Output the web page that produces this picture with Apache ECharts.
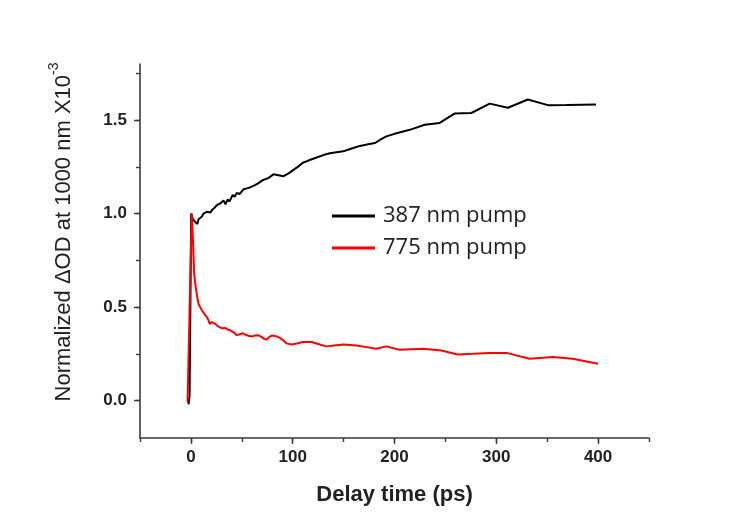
<!DOCTYPE html>
<html>
<head>
<meta charset="utf-8">
<script src="https://cdn.jsdelivr.net/npm/echarts@6/dist/echarts.min.js"></script>
<style>
  html, body { margin: 0; padding: 0; background: #fff; }
  #chart { width: 737px; height: 517px; }
</style>
</head>
<body>
<div id="chart"></div>
<script>
// Delay times (ps) and normalized ΔOD for the 387 nm pump trace
const pump387Time = [-2.3, -1.3, 0.3, 1, 2, 2.6, 3.5, 4.2, 5.5, 6.5, 7.5, 9, 10.8, 12.4, 14, 16, 19, 21, 23, 25.5, 27, 29, 32, 34, 36, 38, 41, 43, 45, 48, 51.6, 55, 58, 62, 66, 71, 76, 81, 86, 91, 96, 100.7, 105, 110, 116, 123.5, 130, 136.6, 143, 149.7, 158, 166, 173, 180.7, 186, 192, 202, 215, 229.7, 244.4, 259, 275.5, 293.5, 311.4, 331, 350.7, 368.6, 398];
const pump387Value = [-0.02, 0.03, 1.0, 1.01, 0.97, 0.96, 0.975, 0.955, 0.965, 0.945, 0.97, 0.96, 0.985, 1.0, 0.99, 1.01, 1.005, 1.02, 1.03, 1.045, 1.035, 1.055, 1.07, 1.05, 1.075, 1.065, 1.10, 1.09, 1.11, 1.105, 1.13, 1.135, 1.14, 1.15, 1.162, 1.18, 1.19, 1.21, 1.205, 1.2, 1.215, 1.234, 1.25, 1.272, 1.285, 1.30, 1.313, 1.323, 1.328, 1.333, 1.348, 1.362, 1.37, 1.377, 1.395, 1.413, 1.43, 1.448, 1.475, 1.485, 1.535, 1.538, 1.588, 1.566, 1.61, 1.58, 1.581, 1.584];

// Delay times (ps) and normalized ΔOD for the 775 nm pump trace
const pump775Time = [-3.3, -2.3, 0.8, 1.4, 2.0, 2.6, 3.2, 4.2, 5.2, 6.3, 7.5, 9, 10.8, 13, 15.7, 17.3, 18.5, 19.5, 20.6, 22, 24, 26, 28, 30.4, 32, 34, 36, 38.6, 42, 45, 48, 51, 54, 57, 60, 63, 66, 69, 72, 74.5, 77, 79.4, 83, 86, 90, 94, 99, 104, 110, 118.6, 125, 133, 141, 149.7, 162.7, 172.5, 182, 192, 205, 228, 246, 262, 277, 293.5, 311, 332.7, 355.6, 375, 400];
const pump775Value = [-0.01, -0.02, 1.0, 0.93, 0.86, 0.77, 0.68, 0.63, 0.59, 0.55, 0.518, 0.5, 0.483, 0.465, 0.447, 0.43, 0.41, 0.415, 0.42, 0.412, 0.41, 0.40, 0.393, 0.387, 0.392, 0.388, 0.38, 0.376, 0.365, 0.35, 0.355, 0.36, 0.352, 0.345, 0.343, 0.348, 0.35, 0.342, 0.33, 0.326, 0.34, 0.348, 0.345, 0.34, 0.325, 0.306, 0.3, 0.305, 0.313, 0.313, 0.303, 0.29, 0.295, 0.3, 0.295, 0.286, 0.277, 0.29, 0.272, 0.277, 0.268, 0.247, 0.25, 0.254, 0.254, 0.224, 0.233, 0.224, 0.197];

const seriesNames = ['387 nm pump', '775 nm pump'];

// Axis ticks and labels
const xMajorTicks = [0, 100, 200, 300, 400];
const xMinorTicks = [-50, 0, 50, 100, 150, 200, 250, 300, 350, 400, 450];
const yMajorTicks = [0, 0.5, 1.0, 1.5];
const yMinorTicks = [0, 0.25, 0.5, 0.75, 1.0, 1.25, 1.5, 1.75];

const zip = (xs, ys) => xs.map((x, i) => [x, ys[i]]);

const axisColor = '#3a3a3a';
const labelColor = '#222';

const chart = echarts.init(document.getElementById('chart'), null, { renderer: 'canvas' });

chart.setOption({
  backgroundColor: '#fff',
  animation: false,
  grid: { left: 140, right: 88, top: 64, bottom: 79 },
  legend: {
    orient: 'vertical',
    left: 332,
    top: 203,
    padding: 0,
    itemWidth: 43,
    itemHeight: 3,
    itemGap: 6,
    icon: 'rect',
    textStyle: {
      fontFamily: 'Open Sans',
      fontSize: 22,
      lineHeight: 26,
      color: labelColor,
      padding: [0, 0, 0, 3]
    },
    data: seriesNames
  },
  xAxis: [
    {
      type: 'value',
      min: -50,
      max: 450,
      interval: 50,
      splitLine: { show: false },
      axisLine: { show: true, onZero: false, lineStyle: { color: axisColor, width: 1.6 } },
      axisTick: { show: true, inside: false, length: 4, customValues: xMinorTicks, lineStyle: { color: axisColor, width: 1.4 } },
      axisLabel: {
        customValues: xMajorTicks,
        margin: 11,
        fontFamily: 'Liberation Sans',
        fontWeight: 'bold',
        fontSize: 17,
        color: labelColor
      },
      name: 'Delay time (ps)',
      nameLocation: 'middle',
      nameGap: 46,
      nameTextStyle: {
        fontFamily: 'Liberation Sans',
        fontWeight: 'bold',
        fontSize: 22,
        color: labelColor
      }
    },
    {
      type: 'value',
      min: -50,
      max: 450,
      interval: 50,
      position: 'bottom',
      splitLine: { show: false },
      axisLine: { show: false, onZero: false },
      axisTick: { show: true, length: 6, customValues: xMajorTicks, lineStyle: { color: axisColor, width: 1.4 } },
      axisLabel: { show: false }
    }
  ],
  yAxis: [
    {
      type: 'value',
      min: -0.2,
      max: 1.8,
      splitLine: { show: false },
      axisLine: { show: true, onZero: false, lineStyle: { color: axisColor, width: 1.6 } },
      axisTick: { show: true, length: 4, customValues: yMinorTicks, lineStyle: { color: axisColor, width: 1.4 } },
      axisLabel: {
        customValues: yMajorTicks,
        margin: 13,
        fontFamily: 'Liberation Sans',
        fontWeight: 'bold',
        fontSize: 17,
        color: labelColor,
        formatter: v => v.toFixed(1)
      }
    },
    {
      type: 'value',
      min: -0.2,
      max: 1.8,
      position: 'left',
      splitLine: { show: false },
      axisLine: { show: false, onZero: false },
      axisTick: { show: true, length: 6, customValues: yMajorTicks, lineStyle: { color: axisColor, width: 1.4 } },
      axisLabel: { show: false }
    }
  ],
  graphic: [
    {
      type: 'text',
      x: 61,
      y: 232,
      rotation: Math.PI / 2,
      style: {
        text: '{m|Normalized ΔOD at 1000 nm X10}{s|-3}',
        align: 'center',
        verticalAlign: 'middle',
        fill: labelColor,
        rich: {
          m: { fontFamily: 'Liberation Sans', fontSize: 22, lineHeight: 27, fill: labelColor, verticalAlign: 'bottom' },
          s: { fontFamily: 'Liberation Sans', fontSize: 14, lineHeight: 27, fill: labelColor, verticalAlign: 'top' }
        }
      }
    }
  ],
  series: [
    {
      name: seriesNames[0],
      type: 'line',
      xAxisIndex: 0,
      yAxisIndex: 0,
      data: zip(pump387Time, pump387Value),
      showSymbol: false,
      symbol: 'none',
      color: '#000',
      lineStyle: { color: '#000', width: 2 },
      z: 2
    },
    {
      name: seriesNames[1],
      type: 'line',
      xAxisIndex: 0,
      yAxisIndex: 0,
      data: zip(pump775Time, pump775Value),
      showSymbol: false,
      symbol: 'none',
      color: '#ff0000',
      lineStyle: { color: '#ff0000', width: 2 },
      z: 3
    }
  ]
});
</script>
</body>
</html>
